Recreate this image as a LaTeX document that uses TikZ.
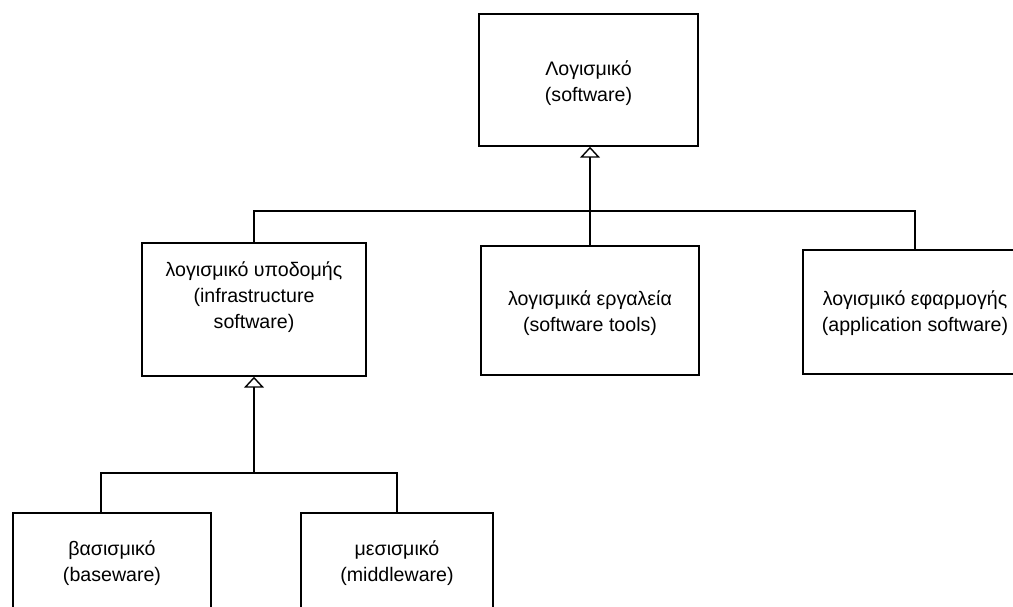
\documentclass[tikz,border=0pt]{standalone}
\usepackage{fontspec}
\setmainfont{Liberation Sans}
\usetikzlibrary{arrows.meta}
\begin{document}
\begin{tikzpicture}[x=1pt,y=-1pt,
  box/.style={draw, line width=1.4pt, inner sep=0pt},
  txt/.style={inner sep=0pt, align=center, font=\fontsize{19.6}{26}\selectfont},
  link/.style={line width=1.4pt},
  gen/.style={line width=1.4pt, -{Triangle[open,length=11pt,width=20pt]}}]
\useasboundingbox (0,0) rectangle (1013,606);
\clip (0,0) rectangle (1013,606);

% class boxes
\node[box, minimum width=219, minimum height=132] (top)   at (588.5,80)  {};
\node[box, minimum width=224, minimum height=133] (infra) at (254,309.5) {};
\node[box, minimum width=218, minimum height=129] (tools) at (590,310.5) {};
\node[box, minimum width=224, minimum height=124] (app)   at (915,312)   {};
\node[box, minimum width=198, minimum height=110] (base)  at (112,568)   {};
\node[box, minimum width=192, minimum height=110] (mid)   at (397,568)   {};

% class names
\node[txt] (top-t)   at ([yshift=-3pt]top.center)   {Λογισμικό\\(software)};
\node[txt] (infra-t) at ([yshift=12pt]infra.center) {λογισμικό υποδομής\\(infrastructure\\software)};
\node[txt] (tools-t) at ([yshift=-3pt]tools.center) {λογισμικά εργαλεία\\(software tools)};
\node[txt] (app-t)   at ([yshift=-1pt]app.center)   {λογισμικό εφαρμογής\\(application software)};
\node[txt] (base-t)  at ([yshift=5pt]base.center)   {βασισμικό\\(baseware)};
\node[txt] (mid-t)   at ([yshift=5pt]mid.center)    {μεσισμικό\\(middleware)};

% bus lines of the two generalisations
\coordinate (bus)  at (0,211);
\coordinate (bus2) at (0,473);

% first level
\draw[link] (infra.north) |- (app.north |- bus) -- (app.north);
\draw[gen] (tools.north) -- (tools.north |- top.south);

% second level
\draw[link] ([xshift=-11pt]base.north) |- (mid.north |- bus2) -- (mid.north);
\draw[gen] (infra.south |- bus2) -- (infra.south);
\end{tikzpicture}
\end{document}
